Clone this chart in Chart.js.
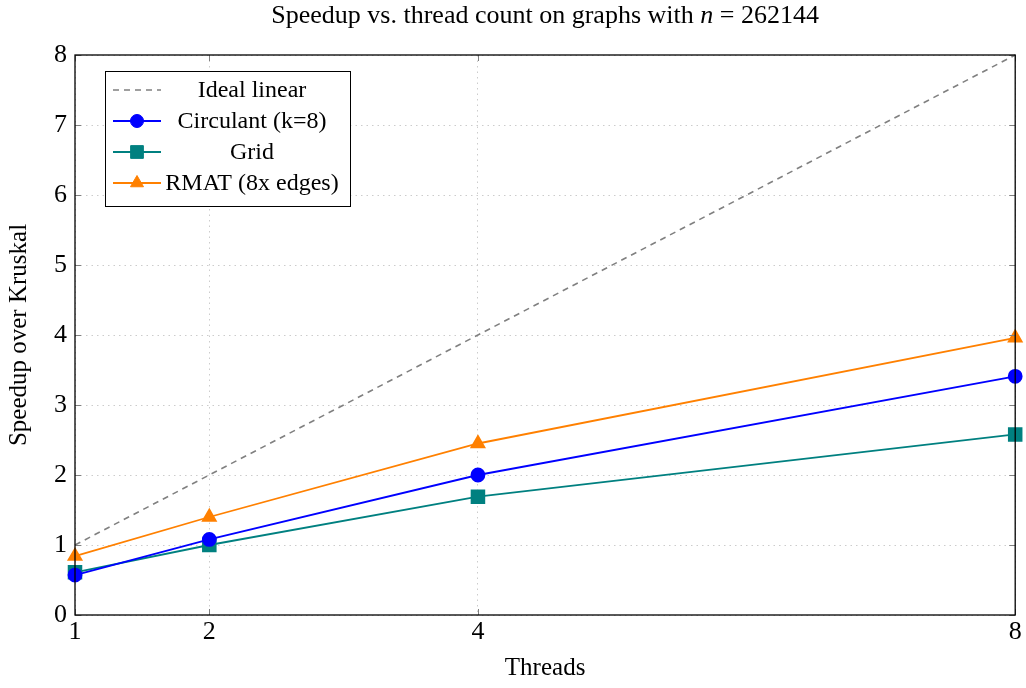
<!DOCTYPE html>
<html>
<head>
<meta charset="utf-8">
<script src="https://cdn.jsdelivr.net/npm/chart.js@4.4.1/dist/chart.umd.min.js"></script>
<style>
  html, body { margin: 0; padding: 0; background: #fff; }
  #wrap { width: 1026px; height: 688px; }
</style>
</head>
<body>
<div id="wrap"><canvas id="myChart" width="1026" height="688"></canvas></div>
<script>
// data
const threads = [1, 2, 4, 8];
const idealLinear = [1, 2, 4, 8];
const circulant = [0.57, 1.08, 2.0, 3.41];
const grid = [0.61, 1.0, 1.69, 2.58];
const rmat = [0.84, 1.4, 2.45, 3.96];
const yTicks = [0, 1, 2, 3, 4, 5, 6, 7, 8];

const serif = '"Liberation Serif", "DejaVu Serif", serif';

const toPoints = (vals) => threads.map((t, i) => ({ x: t, y: vals[i] }));

// title with italic n, drawn by hand
const titlePlugin = {
  id: 'texTitle',
  afterDraw(chart) {
    const ctx = chart.ctx;
    const parts = [
      { t: 'Speedup vs. thread count on graphs with ', f: '26px ' + serif },
      { t: 'n', f: 'italic 26px ' + serif },
      { t: ' = 262144', f: '26px ' + serif }
    ];
    ctx.save();
    let total = 0;
    parts.forEach(p => { ctx.font = p.f; total += ctx.measureText(p.t).width; });
    let x = (chart.chartArea.left + chart.chartArea.right) / 2 - total / 2;
    ctx.fillStyle = '#000';
    ctx.textBaseline = 'middle';
    parts.forEach(p => {
      ctx.font = p.f;
      ctx.fillText(p.t, x, 16);
      x += ctx.measureText(p.t).width;
    });
    ctx.restore();
  }
};

// full frame + inward tick marks on every side
const framePlugin = {
  id: 'frame',
  afterDatasetsDraw(chart) {
    const { ctx, chartArea: a, scales } = chart;
    ctx.save();
    ctx.strokeStyle = '#808080';
    ctx.lineWidth = 1;
    scales.x.ticks.forEach(t => {
      const px = Math.round(scales.x.getPixelForValue(t.value)) + 0.5;
      ctx.beginPath();
      ctx.moveTo(px, a.bottom); ctx.lineTo(px, a.bottom - 6);
      ctx.moveTo(px, a.top); ctx.lineTo(px, a.top + 6);
      ctx.stroke();
    });
    scales.y.ticks.forEach(t => {
      const py = Math.round(scales.y.getPixelForValue(t.value)) + 0.5;
      ctx.beginPath();
      ctx.moveTo(a.left, py); ctx.lineTo(a.left + 6, py);
      ctx.moveTo(a.right, py); ctx.lineTo(a.right - 6, py);
      ctx.stroke();
    });
    ctx.strokeStyle = '#000';
    ctx.lineWidth = 1.3;
    ctx.strokeRect(a.left, a.top, a.right - a.left, a.bottom - a.top);
    ctx.restore();
  },
  afterDraw(chart) {
    // legend box inside the plot, top left
    const ctx = chart.ctx;
    const a = chart.chartArea;
    const bx = a.left + 30, by = a.top + 16, bw = 245, bh = 135;
    ctx.save();
    ctx.fillStyle = '#fff';
    ctx.fillRect(bx, by, bw, bh);
    ctx.strokeStyle = '#000';
    ctx.lineWidth = 1;
    ctx.strokeRect(bx + 0.5, by + 0.5, bw, bh);
    chart.data.datasets.forEach((ds, i) => {
      const cy = by + 19 + i * 31;
      ctx.strokeStyle = ds.borderColor;
      ctx.lineWidth = ds.borderWidth;
      ctx.setLineDash(ds.borderDash || []);
      ctx.beginPath();
      ctx.moveTo(bx + 8, cy); ctx.lineTo(bx + 56, cy);
      ctx.stroke();
      ctx.setLineDash([]);
      if (ds.pointStyle && ds.pointRadius > 0) {
        ctx.fillStyle = ds.backgroundColor;
        ctx.strokeStyle = ds.borderColor;
        ctx.lineWidth = 1;
        Chart.helpers.drawPoint(ctx, {
          pointStyle: ds.pointStyle, radius: ds.pointRadius, borderWidth: 1
        }, bx + 32, cy);
      }
      ctx.fillStyle = '#000';
      ctx.font = '24px ' + serif;
      ctx.textAlign = 'center';
      ctx.textBaseline = 'middle';
      ctx.fillText(ds.label, bx + 147, cy + 1);
    });
    ctx.restore();
  }
};

const ctx = document.getElementById('myChart').getContext('2d');
new Chart(ctx, {
  type: 'line',
  data: {
    datasets: [
      {
        label: 'Ideal linear',
        data: toPoints(idealLinear),
        borderColor: '#808080',
        backgroundColor: '#808080',
        borderWidth: 1.6,
        borderDash: [6, 5],
        pointRadius: 0,
        pointStyle: false
      },
      {
        label: 'Circulant (k=8)',
        data: toPoints(circulant),
        borderColor: '#0000ff',
        backgroundColor: '#0000ff',
        borderWidth: 1.8,
        pointStyle: 'circle',
        pointRadius: 6.5
      },
      {
        label: 'Grid',
        data: toPoints(grid),
        borderColor: '#008080',
        backgroundColor: '#008080',
        borderWidth: 1.8,
        pointStyle: 'rect',
        pointRadius: 9
      },
      {
        label: 'RMAT (8x edges)',
        data: toPoints(rmat),
        borderColor: '#ff8000',
        backgroundColor: '#ff8000',
        borderWidth: 1.8,
        pointStyle: 'triangle',
        pointRadius: 7.5
      }
    ]
  },
  options: {
    responsive: false,
    animation: false,
    clip: false,
    layout: { padding: { top: 55, right: 7, left: 0, bottom: 0 } },
    elements: { line: { tension: 0 }, point: { borderWidth: 1, hoverRadius: 6 } },
    plugins: {
      legend: { display: false },
      title: { display: false },
      tooltip: { enabled: false }
    },
    scales: {
      x: {
        type: 'linear',
        min: 1,
        max: 8,
        afterBuildTicks: (scale) => { scale.ticks = threads.map(v => ({ value: v })); },
        afterFit: (scale) => { scale.height = 73; },
        ticks: { color: '#000', font: { family: serif, size: 26 }, padding: 2, maxRotation: 0 },
        grid: { color: '#cccccc', lineWidth: 1, tickLength: 0, drawTicks: false },
        border: { display: false, dash: [1.5, 4] },
        title: { display: true, text: 'Threads', color: '#000', font: { family: serif, size: 25 }, padding: { top: 2, bottom: 5 } }
      },
      y: {
        min: 0,
        max: 8,
        afterBuildTicks: (scale) => { scale.ticks = yTicks.map(v => ({ value: v })); },
        afterFit: (scale) => { scale.width = 75; },
        ticks: { color: '#000', font: { family: serif, size: 26 }, padding: 8 },
        grid: { color: '#cccccc', lineWidth: 1, tickLength: 0, drawTicks: false },
        border: { display: false, dash: [1.5, 4] },
        title: { display: true, text: 'Speedup over Kruskal', color: '#000', font: { family: serif, size: 25 }, padding: { top: 4, bottom: 4 } }
      }
    }
  },
  plugins: [titlePlugin, framePlugin]
});
</script>
</body>
</html>
